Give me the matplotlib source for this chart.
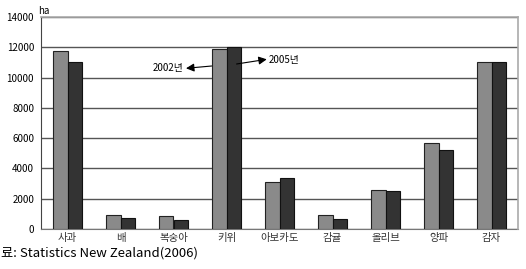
import matplotlib
matplotlib.use("Agg")
import matplotlib.pyplot as plt
import numpy as np

plt.rcParams['font.family'] = ['Noto Sans CJK KR', 'DejaVu Sans']

categories = ['사과', '배', '복숭아', '키위', '아보카도', '감귤', '올리브', '양파', '감자']
v2002 = [11750, 950, 840, 11870, 3120, 900, 2580, 5660, 11050]
v2005 = [11000, 730, 570, 12000, 3390, 680, 2510, 5240, 11030]
yticks = [0, 2000, 4000, 6000, 8000, 10000, 12000, 14000]

fig = plt.figure(figsize=(5.26, 2.69), dpi=100)
ax = fig.add_axes([41/526, 40/269, 477/526, 212/269])

x = np.arange(len(categories))
w = 0.28
ax.bar(x - w/2, v2002, w, color='#8a8a8a', edgecolor='#222222', linewidth=0.8, zorder=3)
ax.bar(x + w/2, v2005, w, color='#333333', edgecolor='#111111', linewidth=0.8, zorder=3)

ax.set_xlim(-0.5, len(categories) - 0.5)
ax.set_ylim(0, 14000)
ax.set_yticks(yticks)
ax.set_yticklabels([str(t) for t in yticks], fontsize=7)
ax.set_xticks(x)
ax.set_xticklabels(categories, fontsize=7.5, color='#333333')
ax.tick_params(axis='both', length=0, pad=5)
ax.tick_params(axis='x', pad=3)
ax.grid(axis='y', color='#555555', linewidth=1.0, zorder=0)
for s in ['top', 'right']:
    ax.spines[s].set_color('#aaaaaa')
    ax.spines[s].set_linewidth(1.2)
    ax.spines[s].set_zorder(5)
ax.spines['left'].set_color('#444444')
ax.spines['bottom'].set_color('#777777')

ax.text(-0.557, 14396, 'ha', fontsize=7, ha='left', va='center', clip_on=False)

ax.annotate('', xy=(2.236, 10612), xytext=(2.72, 10764),
            arrowprops=dict(arrowstyle='-|>', color='black', lw=0.8, mutation_scale=12, shrinkA=0, shrinkB=0))
ax.text(1.607, 10612, '2002년', fontsize=7, ha='left', va='center')
ax.annotate('', xy=(3.76, 11206), xytext=(3.19, 10896),
            arrowprops=dict(arrowstyle='-|>', color='black', lw=0.8, mutation_scale=12, shrinkA=0, shrinkB=0))
ax.text(3.79, 11160, '2005년', fontsize=7, ha='left', va='center')

fig.text(1/526, 1 - 257/269, '료: Statistics New Zealand(2006)', fontsize=9.5, ha='left', va='baseline')

fig.savefig('out.png', dpi=100)
